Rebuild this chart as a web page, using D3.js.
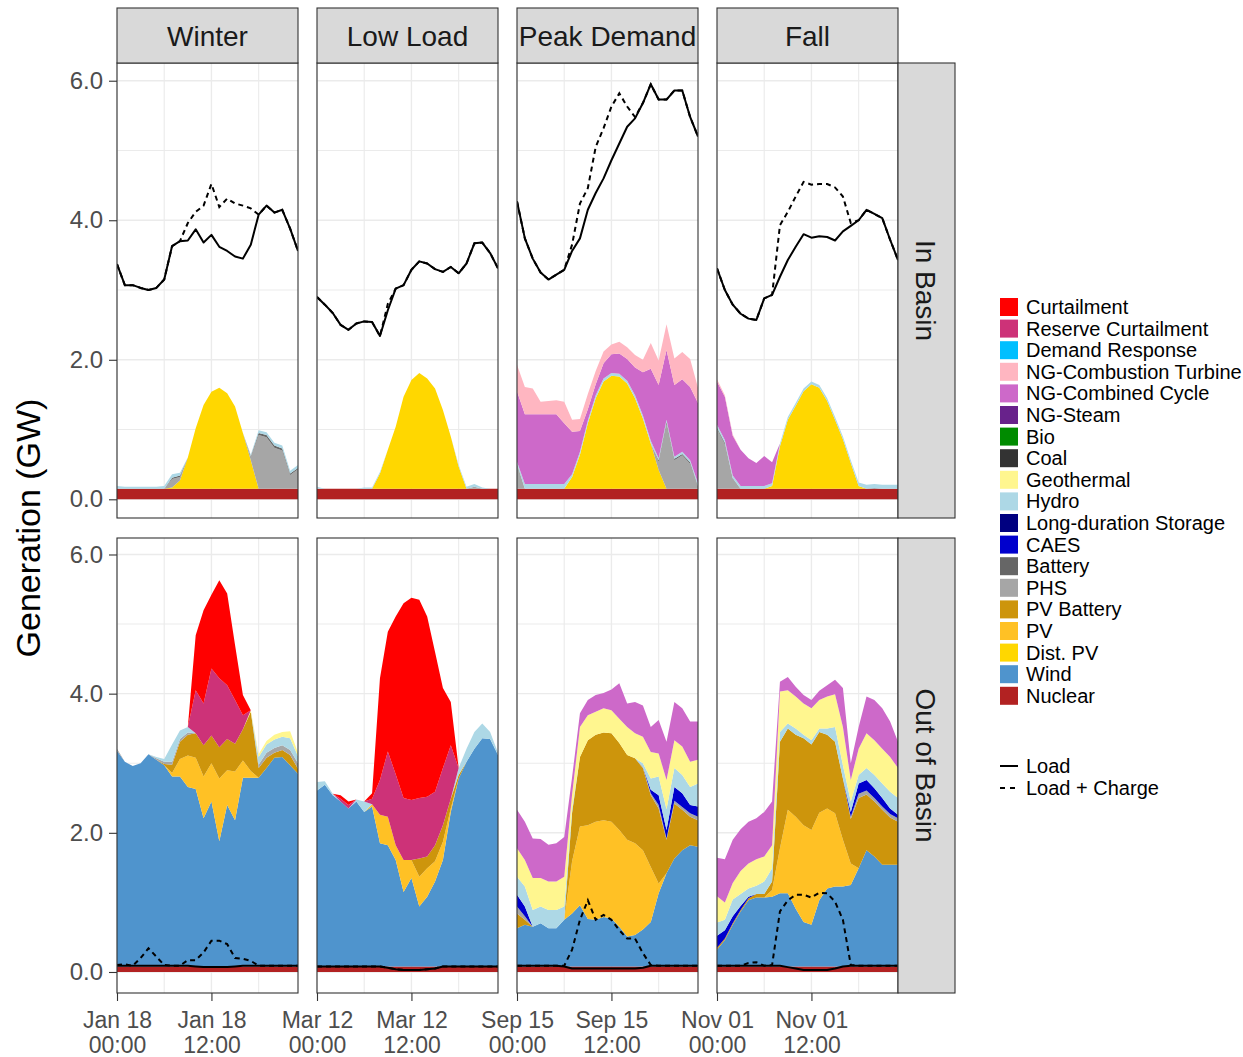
<!DOCTYPE html>
<html><head><meta charset="utf-8">
<script src="https://cdn.jsdelivr.net/npm/d3@7"></script>
<style>
body{margin:0;background:#fff;}
text{font-family:"Liberation Sans",Arial,sans-serif;}
</style>
</head><body>
<svg id="chart" width="1243" height="1057"></svg>
<script>
// ---------- categories ----------
const hours = d3.range(24);
const seasons = ["Winter","Low Load","Peak Demand","Fall"];
const regions = ["In Basin","Out of Basin"];
const dateLabels = ["Jan 18","Mar 12","Sep 15","Nov 01"];
const xTickHours = [0,12];
const xTickTimes = ["00:00","12:00"];
const yTicks = [0,2,4,6];
const techs = ["Nuclear","Wind","Dist. PV","PV","PV Battery","PHS","Battery","CAES","Long-duration Storage","Hydro","Geothermal","Coal","Bio","NG-Steam","NG-Combined Cycle","NG-Combustion Turbine","Demand Response","Reserve Curtailment","Curtailment"];
const techColors = ["#B22222","#4F94CD","#FFD700","#FFC125","#CD950C","#A6A6A6","#666666","#0000CD","#000080","#ADD8E6","#FFF68F","#333333","#008B00","#68228B","#CD69C9","#FFB6C1","#00BFFF","#CD3278","#FF0000"];
const lineNames = ["Load","Load + Charge"];

// ---------- Winter / In Basin ----------
const winterInNuclear = [0.15,0.15,0.15,0.15,0.15,0.15,0.15,0.15,0.15,0.15,0.15,0.15,0.15,0.15,0.15,0.15,0.15,0.15,0.15,0.15,0.15,0.15,0.15,0.15];
const winterInDistPV  = [0,0,0,0,0,0,0,0.02,0.12,0.45,0.87,1.20,1.39,1.45,1.37,1.18,0.80,0.41,0,0,0,0,0,0];
const winterInPHS     = [0,0,0,0,0,0,0,0.12,0.05,0,0,0,0,0,0,0,0,0.05,0.77,0.74,0.59,0.55,0.20,0.28];
const winterInBattery = [0,0,0,0,0,0,0,0.02,0.02,0,0,0,0,0,0,0,0,0.01,0.03,0.03,0.03,0.03,0.02,0.02];
const winterInHydro   = [0.04,0.03,0.03,0.03,0.03,0.03,0.04,0.05,0.04,0,0,0,0,0,0,0,0,0.02,0.04,0.04,0.04,0.04,0.04,0.04];
const winterInLoad    = [3.37,3.07,3.07,3.03,3.00,3.03,3.15,3.63,3.70,3.71,3.87,3.68,3.79,3.62,3.56,3.48,3.45,3.65,4.08,4.21,4.11,4.15,3.88,3.56];
const winterInLoadCharge = [3.37,3.07,3.07,3.03,3.00,3.03,3.15,3.63,3.70,3.96,4.12,4.21,4.52,4.19,4.31,4.24,4.21,4.17,4.08,4.21,4.11,4.15,3.88,3.56];

// ---------- Low Load / In Basin ----------
const lowInNuclear = [0.15,0.15,0.15,0.15,0.15,0.15,0.15,0.15,0.15,0.15,0.15,0.15,0.15,0.15,0.15,0.15,0.15,0.15,0.15,0.15,0.15,0.15,0.15,0.15];
const lowInDistPV  = [0,0,0,0,0,0,0,0,0.22,0.56,0.89,1.32,1.56,1.66,1.58,1.44,1.13,0.75,0.32,0,0,0,0,0];
const lowInPHS     = [0,0,0,0,0,0,0,0,0,0,0,0,0,0,0,0,0,0,0,0,0.03,0,0,0];
const lowInHydro   = [0.03,0,0,0,0,0,0.02,0.02,0.02,0,0,0,0,0,0,0,0,0,0.02,0.03,0.04,0.02,0,0];
const lowInLoad    = [2.90,2.79,2.67,2.50,2.43,2.52,2.55,2.54,2.34,2.71,3.02,3.07,3.29,3.41,3.38,3.30,3.26,3.33,3.24,3.38,3.67,3.68,3.53,3.31];
const lowInLoadCharge = [2.90,2.79,2.67,2.50,2.43,2.52,2.55,2.54,2.34,2.80,3.02,3.07,3.29,3.41,3.38,3.30,3.26,3.33,3.24,3.38,3.67,3.68,3.53,3.31];

// ---------- Peak Demand / In Basin ----------
const peakInNuclear = [0.15,0.15,0.15,0.15,0.15,0.15,0.15,0.15,0.15,0.15,0.15,0.15,0.15,0.15,0.15,0.15,0.15,0.15,0.15,0.15,0.15,0.15,0.15,0.15];
const peakInDistPV  = [0,0,0,0,0,0,0,0.17,0.49,0.94,1.30,1.54,1.62,1.61,1.51,1.30,1.01,0.65,0.27,0,0,0,0,0];
const peakInPHS     = [0.34,0,0,0,0,0,0,0,0,0,0,0,0,0,0,0,0,0,0.12,0.94,0.41,0.48,0.36,0.03];
const peakInBattery = [0.02,0,0,0,0,0,0,0,0,0,0,0,0,0,0,0,0,0,0.02,0.02,0.02,0.02,0.02,0.01];
const peakInHydro   = [0.03,0.07,0.07,0.07,0.07,0.07,0.07,0.04,0.04,0.04,0.04,0.04,0.04,0.04,0.04,0.04,0.04,0.04,0.03,0.03,0.03,0.03,0.03,0.04];
const peakInNGCC    = [1.01,1.00,1.00,1.00,1.00,1.00,0.87,0.61,0.30,0.16,0.16,0.22,0.27,0.29,0.31,0.40,0.62,1.03,1.05,1.00,1.03,1.04,1.05,1.15];
const peakInNGCT    = [0.38,0.39,0.37,0.18,0.19,0.20,0.31,0.17,0.17,0.22,0.19,0.17,0.14,0.17,0.17,0.18,0.18,0.37,0.35,0.37,0.38,0.39,0.40,0.22];
const peakInLoad    = [4.27,3.74,3.45,3.25,3.15,3.22,3.29,3.56,3.74,4.15,4.39,4.60,4.86,5.10,5.34,5.46,5.68,5.95,5.73,5.73,5.86,5.86,5.48,5.20];
const peakInLoadCharge = [4.27,3.74,3.45,3.25,3.15,3.22,3.29,3.65,4.24,4.46,5.05,5.32,5.63,5.82,5.63,5.48,5.68,5.95,5.73,5.73,5.86,5.86,5.48,5.20];

// ---------- Fall / In Basin ----------
const fallInNuclear = [0.15,0.15,0.15,0.15,0.15,0.15,0.15,0.15,0.15,0.15,0.15,0.15,0.15,0.15,0.15,0.15,0.15,0.15,0.15,0.15,0.15,0.15,0.15,0.15];
const fallInDistPV  = [0,0,0,0,0,0,0,0.04,0.61,0.99,1.19,1.40,1.50,1.45,1.26,0.99,0.71,0.37,0.04,0,0,0,0,0];
const fallInPHS     = [0.86,0.64,0.14,0,0,0,0,0,0,0,0,0,0,0,0,0,0,0,0,0,0,0,0,0];
const fallInBattery = [0.02,0.02,0.01,0,0,0,0,0,0,0,0,0,0,0,0,0,0,0,0,0,0.01,0,0,0];
const fallInHydro   = [0.04,0.04,0.04,0.04,0.04,0.04,0.04,0.04,0.04,0.04,0.04,0.04,0.04,0.04,0.04,0.04,0.04,0.04,0.05,0.06,0.06,0.06,0.06,0.06];
const fallInNGCC    = [0.62,0.62,0.57,0.52,0.40,0.33,0.43,0.30,0,0,0,0,0,0,0,0,0,0,0,0,0,0,0,0];
const fallInNGCT    = [0.03,0.02,0.02,0,0,0,0,0,0,0,0,0,0,0,0,0,0,0,0,0,0,0,0,0];
const fallInLoad    = [3.31,3.00,2.79,2.66,2.59,2.57,2.88,2.93,3.19,3.43,3.62,3.80,3.75,3.77,3.76,3.71,3.84,3.92,4.00,4.15,4.09,4.03,3.72,3.43];
const fallInLoadCharge = [3.31,3.00,2.79,2.66,2.59,2.57,2.88,2.93,3.93,4.12,4.34,4.55,4.51,4.52,4.52,4.47,4.34,3.96,4.00,4.15,4.09,4.03,3.72,3.43];

// ---------- Winter / Out of Basin ----------
const winterOutNuclear = [0.08,0.08,0.08,0.08,0.08,0.08,0.08,0.08,0.08,0.08,0.08,0.08,0.08,0.08,0.08,0.08,0.08,0.08,0.08,0.08,0.08,0.08,0.08,0.08];
const winterOutWind    = [3.10,2.94,2.88,2.92,3.05,2.97,2.89,2.73,2.73,2.58,2.55,2.13,2.37,1.80,2.32,2.10,2.71,2.71,2.71,2.85,3.00,3.01,2.89,2.77];
const winterOutPV      = [0,0,0,0,0,0,0,0.05,0.25,0.45,0.45,0.60,0.55,0.90,0.50,0.70,0.25,0.10,0,0,0,0,0,0];
const winterOutPVBattery = [0,0,0,0,0,0,0.02,0.12,0.25,0.30,0.35,0.45,0.40,0.45,0.45,0.40,0.45,0.85,0.14,0.15,0.07,0.10,0.15,0.07];
const winterOutPHS     = [0.03,0,0,0,0,0.02,0.03,0.04,0.04,0.03,0,0,0,0,0,0,0,0,0.05,0.07,0.07,0.07,0.07,0.08];
const winterOutHydro   = [0,0,0,0,0,0.02,0.04,0.25,0.12,0.08,0,0,0,0,0,0,0,0,0.11,0.12,0.12,0.12,0.17,0.10];
const winterOutGeothermal = [0,0,0,0,0,0,0,0,0,0,0,0,0,0,0,0,0,0.02,0.04,0.05,0.07,0.07,0.10,0.05];
const winterOutReserveCurt = [0,0,0,0,0,0,0,0,0,0,0.62,0.60,0.96,0.99,0.77,0.63,0.20,0,0,0,0,0,0,0];
const winterOutCurtailment = [0,0,0,0,0,0,0,0,0,0,0.79,1.34,1.06,1.41,1.32,0.79,0.29,0,0,0,0,0,0,0];
const winterOutLoad    = [0.09,0.09,0.09,0.09,0.09,0.09,0.09,0.09,0.09,0.09,0.08,0.07,0.07,0.07,0.07,0.08,0.09,0.09,0.09,0.09,0.09,0.09,0.09,0.09];
const winterOutLoadCharge = [0.10,0.11,0.09,0.20,0.34,0.22,0.10,0.09,0.09,0.17,0.17,0.28,0.45,0.45,0.40,0.20,0.19,0.16,0.09,0.09,0.09,0.09,0.09,0.09];

// ---------- Low Load / Out of Basin ----------
const lowOutNuclear = [0.08,0.08,0.08,0.08,0.08,0.08,0.08,0.08,0.08,0.08,0.08,0.08,0.08,0.08,0.08,0.08,0.08,0.08,0.08,0.08,0.08,0.08,0.08,0.08];
const lowOutWind    = [2.53,2.61,2.46,2.37,2.27,2.37,2.22,2.30,1.77,1.74,1.53,1.07,1.27,0.86,1.00,1.22,1.53,2.22,2.70,2.94,3.13,3.28,3.27,3.04];
const lowOutPV      = [0,0,0,0,0,0,0,0.03,0.41,0.41,0.21,0.46,0.26,0.43,0.41,0.29,0.26,0.05,0,0,0,0,0,0];
const lowOutPVBattery = [0,0,0,0,0,0,0,0,0,0,0,0,0,0.26,0.17,0.23,0.24,0.14,0.05,0,0,0,0,0];
const lowOutHydro   = [0.12,0.05,0.02,0,0,0.03,0.15,0,0,0,0,0,0,0,0,0,0,0,0.10,0.19,0.24,0.21,0.10,0.03];
const lowOutReserveCurt = [0,0,0,0.04,0.05,0,0,0.08,0.50,0.94,1.02,0.89,0.86,0.87,0.86,0.77,0.82,0.77,0,0,0,0,0,0];
const lowOutCurtailment = [0,0,0,0.05,0.05,0,0,0.08,1.46,1.72,2.27,2.80,2.91,2.85,2.59,2.01,1.15,0.62,0,0,0,0,0,0];
const lowOutLoad    = [0.08,0.08,0.08,0.08,0.08,0.08,0.08,0.08,0.08,0.06,0.04,0.03,0.03,0.03,0.04,0.05,0.08,0.08,0.08,0.08,0.08,0.08,0.08,0.08];
const lowOutLoadCharge = [0.08,0.08,0.08,0.08,0.08,0.08,0.08,0.08,0.08,0.06,0.04,0.03,0.03,0.03,0.04,0.05,0.08,0.08,0.08,0.08,0.08,0.08,0.08,0.08];

// ---------- Peak Demand / Out of Basin ----------
const peakOutNuclear = [0.08,0.08,0.08,0.08,0.08,0.08,0.08,0.08,0.08,0.08,0.08,0.08,0.08,0.08,0.08,0.08,0.08,0.08,0.08,0.08,0.08,0.08,0.08,0.08];
const peakOutWind    = [0.55,0.60,0.57,0.62,0.55,0.55,0.67,0.76,0.88,0.68,0.67,0.71,0.69,0.57,0.43,0.45,0.53,0.64,1.05,1.34,1.55,1.67,1.74,1.72];
const peakOutPV      = [0,0,0,0,0,0,0,0.75,1.13,1.35,1.41,1.39,1.39,1.39,1.39,1.32,1.14,0.79,0.14,0,0,0,0,0];
const peakOutPVBattery = [0.21,0.07,0,0,0,0,0,0.70,1.00,1.22,1.25,1.26,1.27,1.25,1.22,1.22,1.18,1.03,1.08,0.48,0.79,0.58,0.41,0.38];
const peakOutPHS     = [0.10,0.05,0,0,0,0,0,0,0,0,0,0,0,0,0,0,0.02,0.03,0.05,0.02,0.04,0.04,0.05,0.05];
const peakOutCAES    = [0.17,0.14,0,0,0,0,0,0,0,0,0,0,0,0,0,0,0,0.05,0.14,0.12,0.20,0.20,0.12,0.15];
const peakOutHydro   = [0.26,0.29,0.24,0.24,0.26,0.26,0.19,0.06,0,0,0,0,0,0,0,0,0.05,0.16,0.27,0.30,0.27,0.26,0.26,0.33];
const peakOutGeothermal = [0.41,0.38,0.46,0.41,0.41,0.41,0.43,0.20,0.43,0.36,0.33,0.35,0.33,0.35,0.40,0.36,0.38,0.38,0.33,0.42,0.40,0.41,0.36,0.34];
const peakOutNGCC    = [0.55,0.55,0.57,0.56,0.53,0.55,0.57,0.25,0.20,0.22,0.24,0.22,0.30,0.51,0.34,0.45,0.45,0.36,0.48,0.55,0.55,0.55,0.58,0.55];
const peakOutLoad    = [0.09,0.09,0.09,0.09,0.09,0.09,0.08,0.05,0.05,0.05,0.05,0.05,0.05,0.05,0.05,0.05,0.06,0.09,0.09,0.09,0.09,0.09,0.09,0.09];
const peakOutLoadCharge = [0.09,0.09,0.09,0.09,0.09,0.09,0.09,0.32,0.75,1.03,0.75,0.82,0.75,0.60,0.48,0.48,0.27,0.10,0.09,0.09,0.09,0.09,0.09,0.09];

// ---------- Fall / Out of Basin ----------
const fallOutNuclear = [0.08,0.08,0.08,0.08,0.08,0.08,0.08,0.08,0.08,0.08,0.08,0.08,0.08,0.08,0.08,0.08,0.08,0.08,0.08,0.08,0.08,0.08,0.08,0.08];
const fallOutWind    = [0.24,0.38,0.60,0.79,0.95,0.99,0.99,1.00,1.05,1.05,0.83,0.64,0.60,0.95,1.12,1.15,1.15,1.17,1.41,1.67,1.58,1.46,1.46,1.46];
const fallOutPV      = [0,0,0,0,0,0,0,0.10,0.65,1.20,1.32,1.39,1.36,1.26,1.15,1.05,0.67,0.31,0,0,0,0,0,0];
const fallOutPVBattery = [0.03,0.02,0.02,0.02,0.03,0.05,0.05,0.12,1.53,1.17,1.18,1.25,1.23,1.16,1.06,1.03,0.88,0.64,1.01,0.80,0.79,0.79,0.68,0.62];
const fallOutPHS     = [0,0,0,0,0,0,0,0,0,0,0,0,0,0,0,0,0,0.03,0.06,0.06,0.05,0.05,0.05,0.05];
const fallOutCAES    = [0.17,0.12,0.10,0.06,0.02,0,0,0,0,0,0,0,0,0,0,0,0,0.07,0.15,0.15,0.14,0.12,0.08,0.05];
const fallOutHydro   = [0.19,0.15,0.24,0.17,0.12,0.12,0.18,0.19,0.14,0.07,0.09,0.05,0.06,0.05,0.09,0.21,0.19,0.15,0.12,0.17,0.19,0.21,0.24,0.24];
const fallOutGeothermal = [0.38,0.25,0.24,0.33,0.36,0.38,0.36,0.33,0.58,0.48,0.46,0.45,0.46,0.41,0.46,0.47,0.55,0.31,0.38,0.50,0.50,0.50,0.50,0.43];
const fallOutNGCC    = [0.55,0.62,0.62,0.60,0.60,0.59,0.64,0.63,0.14,0.19,0.14,0.12,0.12,0.13,0.16,0.21,0.56,0.24,0.31,0.53,0.58,0.58,0.51,0.38];
const fallOutLoad    = [0.09,0.09,0.09,0.09,0.09,0.09,0.09,0.09,0.09,0.07,0.05,0.03,0.03,0.03,0.03,0.05,0.08,0.09,0.09,0.09,0.09,0.09,0.09,0.09];
const fallOutLoadCharge = [0.09,0.09,0.09,0.09,0.13,0.14,0.09,0.10,0.87,1.03,1.11,1.11,1.07,1.14,1.13,1.01,0.75,0.10,0.09,0.09,0.09,0.09,0.09,0.09];

// ---------- tables built from the arrays ----------
const layerTable = {
  "Winter|In Basin": {"Nuclear":winterInNuclear,"Dist. PV":winterInDistPV,"PHS":winterInPHS,"Battery":winterInBattery,"Hydro":winterInHydro},
  "Low Load|In Basin": {"Nuclear":lowInNuclear,"Dist. PV":lowInDistPV,"PHS":lowInPHS,"Hydro":lowInHydro},
  "Peak Demand|In Basin": {"Nuclear":peakInNuclear,"Dist. PV":peakInDistPV,"PHS":peakInPHS,"Battery":peakInBattery,"Hydro":peakInHydro,"NG-Combined Cycle":peakInNGCC,"NG-Combustion Turbine":peakInNGCT},
  "Fall|In Basin": {"Nuclear":fallInNuclear,"Dist. PV":fallInDistPV,"PHS":fallInPHS,"Battery":fallInBattery,"Hydro":fallInHydro,"NG-Combined Cycle":fallInNGCC,"NG-Combustion Turbine":fallInNGCT},
  "Winter|Out of Basin": {"Nuclear":winterOutNuclear,"Wind":winterOutWind,"PV":winterOutPV,"PV Battery":winterOutPVBattery,"PHS":winterOutPHS,"Hydro":winterOutHydro,"Geothermal":winterOutGeothermal,"Reserve Curtailment":winterOutReserveCurt,"Curtailment":winterOutCurtailment},
  "Low Load|Out of Basin": {"Nuclear":lowOutNuclear,"Wind":lowOutWind,"PV":lowOutPV,"PV Battery":lowOutPVBattery,"Hydro":lowOutHydro,"Reserve Curtailment":lowOutReserveCurt,"Curtailment":lowOutCurtailment},
  "Peak Demand|Out of Basin": {"Nuclear":peakOutNuclear,"Wind":peakOutWind,"PV":peakOutPV,"PV Battery":peakOutPVBattery,"PHS":peakOutPHS,"CAES":peakOutCAES,"Hydro":peakOutHydro,"Geothermal":peakOutGeothermal,"NG-Combined Cycle":peakOutNGCC},
  "Fall|Out of Basin": {"Nuclear":fallOutNuclear,"Wind":fallOutWind,"PV":fallOutPV,"PV Battery":fallOutPVBattery,"PHS":fallOutPHS,"CAES":fallOutCAES,"Hydro":fallOutHydro,"Geothermal":fallOutGeothermal,"NG-Combined Cycle":fallOutNGCC}
};
const lineTable = {
  "Winter|In Basin": [winterInLoad, winterInLoadCharge],
  "Low Load|In Basin": [lowInLoad, lowInLoadCharge],
  "Peak Demand|In Basin": [peakInLoad, peakInLoadCharge],
  "Fall|In Basin": [fallInLoad, fallInLoadCharge],
  "Winter|Out of Basin": [winterOutLoad, winterOutLoadCharge],
  "Low Load|Out of Basin": [lowOutLoad, lowOutLoadCharge],
  "Peak Demand|Out of Basin": [peakOutLoad, peakOutLoadCharge],
  "Fall|Out of Basin": [fallOutLoad, fallOutLoadCharge]
};

// ---------- layout ----------
const svg = d3.select("#chart");
const colX = [117,317,517,717], colW = 181;
const rowY = [63,538], rowH = 455;
const yDomains = [[-0.268,6.254],[-0.302,6.237]];
const color = d3.scaleOrdinal().domain(techs).range(techColors);
const FONT = '"Liberation Sans",Arial,sans-serif';

const defs = svg.append("defs");

regions.forEach((reg, r) => {
  seasons.forEach((sea, c) => {
    const key = sea + "|" + reg;
    const x0 = colX[c], y0 = rowY[r];
    const x = d3.scaleLinear().domain([0,23]).range([x0, x0 + colW]);
    const y = d3.scaleLinear().domain(yDomains[r]).range([y0 + rowH, y0]);
    const g = svg.append("g");
    g.append("rect").attr("x",x0).attr("y",y0).attr("width",colW).attr("height",rowH).attr("fill","#fff");
    // grid
    [1,3,5].forEach(v => g.append("line").attr("x1",x0).attr("x2",x0+colW).attr("y1",y(v)).attr("y2",y(v)).attr("stroke","#EBEBEB").attr("stroke-width",1.1));
    yTicks.forEach(v => g.append("line").attr("x1",x0).attr("x2",x0+colW).attr("y1",y(v)).attr("y2",y(v)).attr("stroke","#EBEBEB").attr("stroke-width",1.4));
    [6,18].forEach(h => g.append("line").attr("x1",x(h)).attr("x2",x(h)).attr("y1",y0).attr("y2",y0+rowH).attr("stroke","#EBEBEB").attr("stroke-width",1.1));
    [0,12].forEach(h => g.append("line").attr("x1",x(h)).attr("x2",x(h)).attr("y1",y0).attr("y2",y0+rowH).attr("stroke","#EBEBEB").attr("stroke-width",1.4));

    const clipId = "clip" + r + c;
    defs.append("clipPath").attr("id", clipId).append("rect").attr("x",x0).attr("y",y0).attr("width",colW).attr("height",rowH);
    const pg = g.append("g").attr("clip-path","url(#"+clipId+")");

    const layers = layerTable[key];
    const rows = hours.map(h => {
      const o = {hour: h};
      techs.forEach(t => { o[t] = layers[t] ? layers[t][h] : 0; });
      return o;
    });
    const stacked = d3.stack().keys(techs)(rows);
    const area = d3.area().x(d => x(d.data.hour)).y0(d => y(d[0])).y1(d => y(d[1]));
    stacked.forEach(s => {
      if (d3.max(s, d => d[1] - d[0]) <= 0) return;
      pg.append("path").attr("d", area(s)).attr("fill", color(s.key)).attr("stroke", "none");
    });

    const line = d3.line().x((d,i) => x(hours[i])).y(d => y(d));
    const [loadArr, chargeArr] = lineTable[key];
    pg.append("path").attr("d", line(loadArr)).attr("fill","none").attr("stroke","#000").attr("stroke-width",2).attr("stroke-linejoin","round");
    pg.append("path").attr("d", line(chargeArr)).attr("fill","none").attr("stroke","#000").attr("stroke-width",2).attr("stroke-dasharray","5,4");

    g.append("rect").attr("x",x0).attr("y",y0).attr("width",colW).attr("height",rowH).attr("fill","none").attr("stroke","#333").attr("stroke-width",1.1);

    if (c === 0) {
      const ax = svg.append("g").attr("transform","translate("+x0+",0)")
        .call(d3.axisLeft(y).tickValues(yTicks).tickFormat(d3.format(".1f")).tickSizeInner(8).tickSizeOuter(0).tickPadding(6));
      ax.select(".domain").remove();
      ax.selectAll(".tick line").attr("stroke","#333").attr("stroke-width",1.1);
      ax.selectAll(".tick text").attr("fill","#4D4D4D").style("font-size","24px").style("font-family",FONT);
    }
    if (r === 1) {
      const ax = svg.append("g").attr("transform","translate(0,"+(y0+rowH)+")")
        .call(d3.axisBottom(x).tickValues(xTickHours).tickSizeInner(8).tickSizeOuter(0).tickPadding(4));
      ax.select(".domain").remove();
      ax.selectAll(".tick line").attr("stroke","#333").attr("stroke-width",1.1);
      ax.selectAll(".tick text").each(function(d, i) {
        const t = d3.select(this).text("").attr("fill","#4D4D4D").style("font-size","23px").style("font-family",FONT).attr("dy",null).attr("y",null);
        t.append("tspan").attr("x",0).attr("y",35).text(dateLabels[c]);
        t.append("tspan").attr("x",0).attr("y",60).text(xTickTimes[i]);
      });
    }
  });
});

seasons.forEach((sea, c) => {
  svg.append("rect").attr("x",colX[c]).attr("y",8).attr("width",colW).attr("height",55).attr("fill","#D9D9D9").attr("stroke","#333").attr("stroke-width",1.1);
  svg.append("text").attr("x",colX[c] + colW/2).attr("y",46).attr("text-anchor","middle").attr("fill","#1A1A1A").style("font-size","28px").text(sea);
});
regions.forEach((reg, r) => {
  svg.append("rect").attr("x",898).attr("y",rowY[r]).attr("width",57).attr("height",rowH).attr("fill","#D9D9D9").attr("stroke","#333").attr("stroke-width",1.1);
  svg.append("text").attr("transform","translate(916,"+(rowY[r]+rowH/2)+") rotate(90)").attr("text-anchor","middle").attr("fill","#1A1A1A").style("font-size","28px").text(reg);
});

svg.append("text").attr("transform","translate(40,528) rotate(-90)").attr("text-anchor","middle").attr("fill","#000").style("font-size","34px").text("Generation (GW)");

const legendTechs = techs.slice().reverse();
const lg = svg.append("g");
legendTechs.forEach((t, i) => {
  const yy = 298 + i * 21.6;
  lg.append("rect").attr("x",1000).attr("y",yy).attr("width",18).attr("height",18).attr("fill",color(t));
  lg.append("text").attr("x",1026).attr("y",yy + 9).attr("dy","0.35em").attr("fill","#000").style("font-size","20px").text(t);
});
lineNames.forEach((n, i) => {
  const yy = 766 + i * 22;
  lg.append("line").attr("x1",1000).attr("x2",1018).attr("y1",yy).attr("y2",yy).attr("stroke","#000").attr("stroke-width",2).attr("stroke-dasharray", i === 0 ? null : "5,5");
  lg.append("text").attr("x",1026).attr("y",yy).attr("dy","0.35em").attr("fill","#000").style("font-size","20px").text(n);
});
</script>
</body></html>
